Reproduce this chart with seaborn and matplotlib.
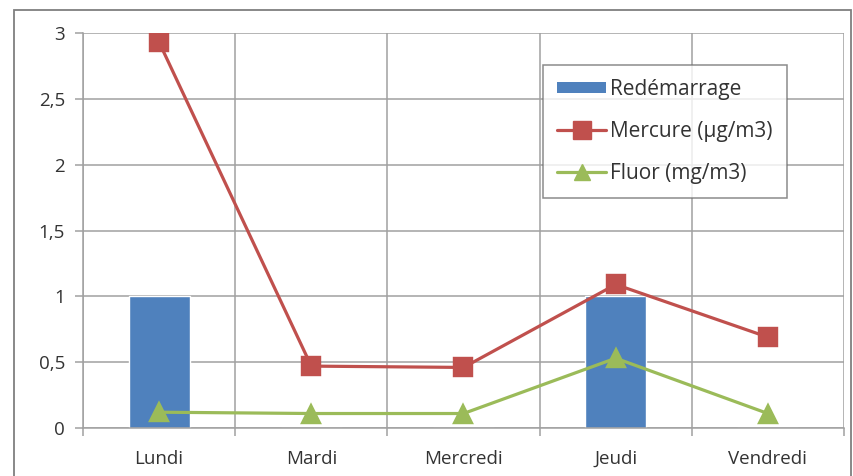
import matplotlib
matplotlib.use("Agg")
import matplotlib.pyplot as plt
import seaborn as sns
import pandas as pd
from matplotlib.patches import Patch, Rectangle
from matplotlib.lines import Line2D
from matplotlib.ticker import FuncFormatter, FixedLocator

jours = ["Lundi", "Mardi", "Mercredi", "Jeudi", "Vendredi"]
redemarrage = [1, 0, 0, 1, 0]
mercure = [2.93, 0.47, 0.46, 1.09, 0.69]
fluor = [0.12, 0.11, 0.11, 0.53, 0.11]
y_ticks = [0, 0.5, 1, 1.5, 2, 2.5, 3]

df = pd.DataFrame({"jour": jours, "redem": redemarrage, "mercure": mercure, "fluor": fluor})

sns.set_theme(style="white")
plt.rcParams["font.family"] = ["Open Sans", "DejaVu Sans"]

BLUE = "#4F81BD"
RED = "#C0504D"
GREEN = "#9BBB59"
GRID = "#A0A0A0"
TXT = "#333333"

fig = plt.figure(figsize=(8.54, 4.76), dpi=100)
W, H = 854, 476
ax = fig.add_axes([83 / W, 1 - 428 / H, (844 - 83) / W, (428 - 33) / H])

# figure border
fig.patches.append(Rectangle((14 / W, -0.01), (851 - 14) / W, 1 - 10 / H + 0.01,
                             transform=fig.transFigure, fill=False,
                             edgecolor="#7F7F7F", linewidth=1.3, zorder=0))

sns.barplot(data=df, x="jour", y="redem", color=BLUE, width=0.4, saturation=1,
            ax=ax, zorder=2)
sns.pointplot(data=df, x="jour", y="mercure", color=RED, markers="s",
              markersize=12.5, linewidth=2.3, errorbar=None, ax=ax, zorder=3)
sns.pointplot(data=df, x="jour", y="fluor", color=GREEN, markers="^",
              markersize=13, linewidth=2.3, errorbar=None, ax=ax, zorder=3)

ax.set_xlim(-0.5, 4.5)
ax.set_ylim(0, 3)
ax.set_xlabel("")
ax.set_ylabel("")
ax.yaxis.set_major_locator(FixedLocator(y_ticks))
ax.yaxis.set_major_formatter(FuncFormatter(lambda v, p: ("%g" % v).replace(".", ",")))
ax.xaxis.set_minor_locator(FixedLocator([i - 0.5 for i in range(len(jours) + 1)]))

ax.grid(True, axis="y", which="major", color=GRID, linewidth=1.1)
ax.grid(True, axis="x", which="minor", color=GRID, linewidth=1.1)
ax.grid(False, axis="x", which="major")
ax.set_axisbelow(True)

for s in ["top", "right"]:
    ax.spines[s].set_visible(False)
for s in ["left", "bottom"]:
    ax.spines[s].set_color(GRID)
    ax.spines[s].set_linewidth(1.1)

ax.tick_params(axis="x", which="major", length=0, pad=16, labelsize=13.5, labelcolor=TXT)
ax.tick_params(axis="x", which="minor", length=6, color=GRID, width=1.1, direction="out", bottom=True)
ax.tick_params(axis="y", which="major", length=6, color=GRID, width=1.1, direction="out",
               left=True, pad=7, labelsize=13.5, labelcolor=TXT)

handles = [
    Patch(facecolor=BLUE, edgecolor="none"),
    Line2D([0], [0], color=RED, linewidth=2.3, marker="s", markersize=12.5),
    Line2D([0], [0], color=GREEN, linewidth=2.3, marker="^", markersize=12),
]
labels = ["Redémarrage", "Mercure (µg/m3)", "Fluor (mg/m3)"]
leg = fig.legend(handles, labels, loc="upper left",
                 bbox_to_anchor=(543 / W, 1 - 65 / H), frameon=True, fancybox=False,
                 edgecolor="#6F6F6F", fontsize=15, handlelength=2.35, handleheight=0.45,
                 labelspacing=1.0, borderpad=0.68, handletextpad=0.2, borderaxespad=0)
leg.get_frame().set_linewidth(1.1)
for t in leg.get_texts():
    t.set_color(TXT)

fig.savefig("out.png", dpi=100)
